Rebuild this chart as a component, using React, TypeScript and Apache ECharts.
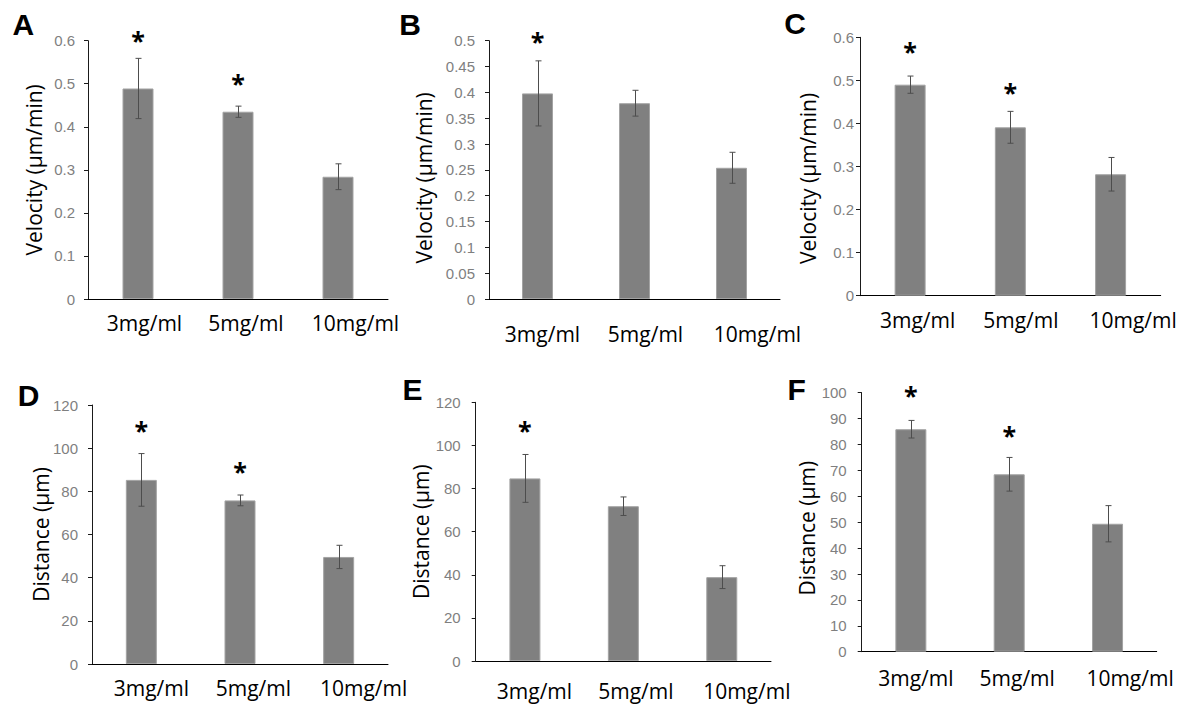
import { useEffect, useRef } from "react";
import * as echarts from "echarts";

// ---------- data ----------
const categories = ["3mg/ml", "5mg/ml", "10mg/ml"];
const panelLetters = ["A", "B", "C", "D", "E", "F"];
const axisNames = [
  "Velocity (µm/min)",
  "Velocity (µm/min)",
  "Velocity (µm/min)",
  "Distance (µm)",
  "Distance (µm)",
  "Distance (µm)",
];
const axisMax = [0.6, 0.5, 0.6, 120, 120, 100];
const axisInterval = [0.1, 0.05, 0.1, 20, 20, 10];

const meanA = [0.489, 0.435, 0.284];
const errA = [0.07, 0.013, 0.03];
const starA = [0.612, 0.513, null];

const meanB = [0.398, 0.379, 0.254];
const errB = [0.063, 0.025, 0.03];
const starB = [0.508, null, null];

const meanC = [0.49, 0.391, 0.282];
const errC = [0.02, 0.037, 0.039];
const starC = [0.58, 0.484, null];

const meanD = [85.3, 75.8, 49.6];
const errD = [12.2, 2.5, 5.4];
const starD = [110.7, 91.7, null];

const meanE = [84.7, 71.8, 38.9];
const errE = [11.1, 4.3, 5.3];
const starE = [109.5, null, null];

const meanF = [85.9, 68.5, 49.4];
const errF = [3.4, 6.5, 7.0];
const starF = [101, 85.3, null];

const means = [meanA, meanB, meanC, meanD, meanE, meanF];
const errs = [errA, errB, errC, errD, errE, errF];
const stars = [starA, starB, starC, starD, starE, starF];

// ---------- layout / style ----------
const grids = [
  { left: 88, top: 40.7, width: 300, height: 258.3 },
  { left: 489, top: 40.7, width: 291, height: 258.3 },
  { left: 860, top: 37.3, width: 300.7, height: 258.4 },
  { left: 92, top: 405, width: 296, height: 259 },
  { left: 475.7, top: 402.3, width: 295.3, height: 258.7 },
  { left: 861.7, top: 392.7, width: 295, height: 259 },
];
const yLabelMargin = [13, 14, 6, 14, 15, 15];
const xLabelMargin = [13, 24, 14, 13.5, 19, 16];
const xLabelShift = [
  [6.5, 8, 17.5],
  [5, 11, 26],
  [7.5, 10.5, 22.5],
  [10, 13.4, 25],
  [9.5, 12.5, 25],
  [5, 8, 22.5],
];
const nameGaps = [44, 55, 42, 41, 44, 44];
const nameShiftDown = [0, 8, 12, 0, 0, 6];
const letterPos = [
  [23.3, 24],
  [410, 24],
  [795, 23],
  [28.5, 395],
  [412.5, 389],
  [796.7, 389],
];

const CAT_FONT = "'Open Sans', 'Noto Sans', sans-serif";
const TICK_FONT = "'Liberation Sans', Arial, sans-serif";

function buildOption() {
  const grid: any[] = [];
  const xAxis: any[] = [];
  const yAxis: any[] = [];
  const series: any[] = [];
  const graphic: any[] = [];

  for (let p = 0; p < 6; p++) {
    grid.push({ ...grids[p], containLabel: false, outerBoundsMode: "none" });

    const rich: any = {};
    categories.forEach((_, i) => {
      rich["s" + i] = {
        fontFamily: CAT_FONT,
        fontSize: 21,
        color: "#000",
        padding: [0, 0, 0, xLabelShift[p][i] * 2],
      };
    });

    xAxis.push({
      type: "category",
      gridIndex: p,
      data: categories,
      axisLine: { show: true, lineStyle: { color: "#000", width: 1 } },
      axisTick: { show: false },
      splitLine: { show: false },
      axisLabel: {
        interval: 0,
        margin: xLabelMargin[p],
        fontFamily: CAT_FONT,
        fontSize: 21,
        color: "#000",
        formatter: (v: string, i: number) => `{s${i}|${v}}`,
        rich,
      },
    });

    yAxis.push({
      type: "value",
      gridIndex: p,
      min: 0,
      max: axisMax[p],
      interval: axisInterval[p],
      name: axisNames[p],
      nameLocation: "middle",
      nameGap: nameGaps[p],
      nameRotate: 90,
      nameMoveOverlap: false,
      nameTextStyle: {
        fontFamily: CAT_FONT,
        fontSize: 21,
        color: "#000",
        padding: [0, nameShiftDown[p] * 2, 0, 0],
      },
      axisLine: { show: true, lineStyle: { color: "#1a1a1a", width: 1 } },
      axisTick: { show: true, inside: false, length: 4, lineStyle: { color: "#1a1a1a" } },
      splitLine: { show: false },
      axisLabel: {
        margin: yLabelMargin[p],
        fontFamily: TICK_FONT,
        fontSize: 15,
        color: "#7f7f7f",
      },
    });

    series.push({
      type: "bar",
      xAxisIndex: p,
      yAxisIndex: p,
      data: means[p],
      barWidth: 31,
      itemStyle: { color: "#808080", borderColor: "#a3a3a3", borderWidth: 1 },
      z: 2,
    });

    series.push({
      type: "custom",
      xAxisIndex: p,
      yAxisIndex: p,
      z: 5,
      clip: false,
      encode: { x: 0, y: 1 },
      data: means[p].map((m, i) => [i, m, errs[p][i], stars[p][i] == null ? NaN : stars[p][i]]),
      renderItem: (params: any, api: any) => {
        const x = api.value(0);
        const m = api.value(1);
        const e = api.value(2);
        const s = api.value(3);
        const top = api.coord([x, m + e]);
        const bot = api.coord([x, m - e]);
        const cx = Math.round(top[0]) + 0.5;
        const hw = 3;
        const st = { stroke: "#4d4d4d", lineWidth: 1 };
        const children: any[] = [
          { type: "line", shape: { x1: cx, y1: top[1], x2: cx, y2: bot[1] }, style: st },
          { type: "line", shape: { x1: cx - hw, y1: top[1], x2: cx + hw, y2: top[1] }, style: st },
          { type: "line", shape: { x1: cx - hw, y1: bot[1], x2: cx + hw, y2: bot[1] }, style: st },
        ];
        if (typeof s === "number" && isFinite(s)) {
          const sp = api.coord([x, s]);
          children.push({
            type: "text",
            x: sp[0],
            y: sp[1] + 4.6,
            style: {
              text: "*",
              fontFamily: CAT_FONT,
              fontSize: 25,
              fontWeight: "bold",
              fill: "#000",
              align: "center",
              verticalAlign: "middle",
            },
          });
        }
        return { type: "group", children };
      },
    });

    graphic.push({
      type: "text",
      x: letterPos[p][0],
      y: letterPos[p][1],
      style: {
        text: panelLetters[p],
        fontFamily: TICK_FONT,
        fontSize: 30,
        fontWeight: "bold",
        fill: "#000",
        align: "center",
        verticalAlign: "middle",
      },
    });
  }

  return {
    animation: false,
    backgroundColor: "#fff",
    grid,
    xAxis,
    yAxis,
    series,
    graphic,
  };
}

export default function App() {
  const ref = useRef<HTMLDivElement>(null);
  useEffect(() => {
    if (!ref.current) return;
    const chart = echarts.init(ref.current, undefined, { renderer: "svg" });
    chart.setOption(buildOption() as any);
    return () => chart.dispose();
  }, []);
  return (
    <div
      ref={ref}
      style={{ position: "fixed", left: 0, top: 0, width: 1185, height: 706, background: "#fff" }}
    />
  );
}
